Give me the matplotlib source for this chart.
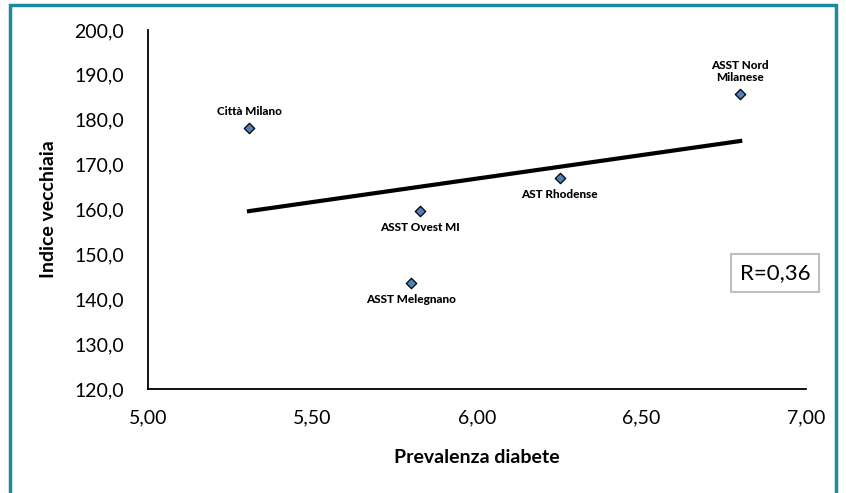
import numpy as np
import matplotlib
matplotlib.use("Agg")
import matplotlib.pyplot as plt
from matplotlib.patches import Rectangle
from matplotlib.ticker import FuncFormatter

labels = ["Città Milano", "ASST Nord\nMilanese", "AST Rhodense", "ASST Ovest MI", "ASST Melegnano"]
prevalenza = [5.307, 6.80, 6.252, 5.827, 5.80]
indice = [178.2, 185.7, 167.0, 159.7, 143.7]
label_pos = ["above", "above", "below", "below", "below"]
r_text = "R=0,36"

plt.rcParams['font.family'] = ['Lato', 'DejaVu Sans']

fig = plt.figure(figsize=(8.46, 4.93), dpi=100)
ax = fig.add_axes([148/846, 1-389/493, (806-148)/846, (389-30)/493])

# border
fig.patches.append(Rectangle((10/846, -0.05), (836-10)/846, 1 - 5/493 + 0.05,
                             transform=fig.transFigure, fill=False,
                             edgecolor='#1B8A9C', linewidth=2.5))

x = np.array(prevalenza)
y = np.array(indice)
m, b = np.polyfit(x, y, 1)
xs = np.array([x.min(), x.max()])
ax.plot(xs, m*xs + b, color='black', linewidth=3, zorder=2)

ax.scatter(x, y, marker='D', s=28, color='#4F81BD', edgecolor='black', linewidth=0.9, zorder=3)

for xi, yi, lab, pos in zip(x, y, labels, label_pos):
    if pos == "above":
        ax.annotate(lab, (xi, yi), xytext=(0, 8), textcoords='offset points',
                    ha='center', va='bottom', fontsize=8.5, fontweight='black', linespacing=1.15)
    else:
        ax.annotate(lab, (xi, yi), xytext=(0, -8), textcoords='offset points',
                    ha='center', va='top', fontsize=8.5, fontweight='black')

ax.set_xlim(5.0, 7.0)
ax.set_ylim(120, 200)
ax.set_xticks([5.0, 5.5, 6.0, 6.5, 7.0])
ax.set_yticks(np.arange(120, 201, 10))
ax.xaxis.set_major_formatter(FuncFormatter(lambda v, p: f"{v:.2f}".replace('.', ',')))
ax.yaxis.set_major_formatter(FuncFormatter(lambda v, p: f"{v:.1f}".replace('.', ',')))
ax.tick_params(length=0, labelsize=14)
ax.tick_params(axis='y', pad=17)
ax.tick_params(axis='x', pad=15)
for s in ['top', 'right']:
    ax.spines[s].set_visible(False)
for s in ['left', 'bottom']:
    ax.spines[s].set_linewidth(1.3)

ax.set_xlabel("Prevalenza diabete", fontsize=14, fontweight='bold', labelpad=16)
ax.set_ylabel("Indice vecchiaia", fontsize=14, fontweight='bold', labelpad=13)

fig.text(775/846, 1-273/493, r_text, ha='center', va='center', fontsize=16,
         bbox=dict(boxstyle='square,pad=0.4', facecolor='white', edgecolor='#BFBFBF', linewidth=1.5))

fig.savefig("out.png", dpi=100)
